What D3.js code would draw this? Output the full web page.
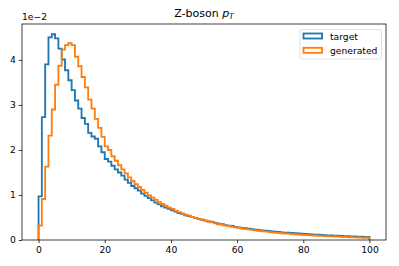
<!DOCTYPE html>
<html>
<head>
<meta charset="utf-8">
<script src="https://cdn.jsdelivr.net/npm/d3@7"></script>
<style>
  body { margin: 0; background: #fff; }
  text { font-family: "DejaVu Sans", sans-serif; fill: #000; }
</style>
</head>
<body>
<div id="plot"></div>
<script>
"use strict";

// bin edges 0..100, width 1 (100 bins)
const binStart = 0;
const binWidth = 1;

// densities in units of 1e-2
const target = [
  0.97, 2.73, 3.90, 4.50, 4.57, 4.48, 4.25, 4.01, 3.77, 3.55,
  3.33, 3.10, 2.92, 2.71, 2.58, 2.38, 2.30, 2.25, 2.08, 1.95,
  1.80, 1.74, 1.65, 1.57, 1.50, 1.43, 1.34, 1.27, 1.20, 1.15,
  1.10, 1.03, 0.98, 0.93, 0.88, 0.83, 0.79, 0.75, 0.72, 0.69,
  0.66, 0.63, 0.60, 0.58, 0.55, 0.53, 0.51, 0.49, 0.47, 0.45,
  0.43, 0.41, 0.40, 0.38, 0.36, 0.35, 0.33, 0.32, 0.31, 0.29,
  0.28, 0.27, 0.26, 0.25, 0.24, 0.23, 0.225, 0.215, 0.205, 0.20,
  0.19, 0.185, 0.18, 0.17, 0.165, 0.16, 0.155, 0.15, 0.145, 0.14,
  0.135, 0.13, 0.125, 0.12, 0.118, 0.112, 0.108, 0.104, 0.10, 0.097,
  0.094, 0.09, 0.087, 0.084, 0.08, 0.078, 0.075, 0.072, 0.07, 0.067
];
const generated = [
  0.32, 0.91, 1.63, 2.32, 2.90, 3.45, 3.87, 4.23, 4.33, 4.37,
  4.33, 4.07, 3.86, 3.62, 3.39, 3.12, 2.92, 2.69, 2.49, 2.29,
  2.08, 2.00, 1.86, 1.76, 1.66, 1.57, 1.48, 1.39, 1.31, 1.24,
  1.18, 1.11, 1.05, 0.99, 0.94, 0.89, 0.84, 0.80, 0.76, 0.72,
  0.69, 0.65, 0.62, 0.59, 0.56, 0.54, 0.51, 0.49, 0.47, 0.45,
  0.43, 0.41, 0.39, 0.37, 0.35, 0.34, 0.32, 0.31, 0.29, 0.28,
  0.27, 0.255, 0.245, 0.235, 0.225, 0.215, 0.205, 0.195, 0.19, 0.18,
  0.17, 0.165, 0.158, 0.15, 0.145, 0.14, 0.133, 0.128, 0.122, 0.117,
  0.112, 0.107, 0.103, 0.099, 0.095, 0.091, 0.087, 0.083, 0.08, 0.077,
  0.074, 0.07, 0.067, 0.064, 0.062, 0.059, 0.056, 0.054, 0.051, 0.049
];

const seriesNames = ["target", "generated"];
const seriesColors = ["#1f77b4", "#ff7f0e"];
const xTicks = [0, 20, 40, 60, 80, 100];
const yTicks = [0, 1, 2, 3, 4];

const msm = {
  width: 399,
  height: 266,
  left: 22,
  right: 386,
  top: 24,
  bottom: 240
};

const svg = d3.select("#plot")
  .append("svg")
  .attr("width", msm.width)
  .attr("height", msm.height);

const xMax = binStart + binWidth * target.length;
const yMax = d3.max(target.concat(generated)) * 1.05;

const xScale = d3.scaleLinear()
  .domain([binStart - 0.05 * (xMax - binStart), xMax + 0.05 * (xMax - binStart)])
  .range([msm.left, msm.right]);
const yScale = d3.scaleLinear()
  .domain([0, yMax])
  .range([msm.bottom, msm.top]);

// step outline like matplotlib histtype="step"
function stepPoints(vals) {
  let pts = [[binStart, 0]];
  vals.forEach((v, i) => {
    pts.push([binStart + i * binWidth, v]);
    pts.push([binStart + (i + 1) * binWidth, v]);
  });
  pts.push([xMax, 0]);
  return pts;
}

const line = d3.line()
  .x(d => xScale(d[0]))
  .y(d => yScale(d[1]));

[target, generated].forEach((vals, i) => {
  svg.append("path")
    .attr("d", line(stepPoints(vals)))
    .attr("fill", "none")
    .attr("stroke", seriesColors[i])
    .attr("stroke-width", 1.85)
    .attr("stroke-linejoin", "miter");
});

// axes
const xAxis = d3.axisBottom(xScale).tickValues(xTicks).tickSize(3.2).tickPadding(3);
const gx = svg.append("g")
  .attr("transform", "translate(0," + msm.bottom + ")")
  .call(xAxis);
const yAxis = d3.axisLeft(yScale).tickValues(yTicks).tickFormat(d3.format("d")).tickSize(3.2).tickPadding(3);
const gy = svg.append("g")
  .attr("transform", "translate(" + msm.left + ",0)")
  .call(yAxis);
[gx, gy].forEach(g => {
  g.select(".domain").remove();
  g.selectAll("line").attr("stroke", "#000").attr("stroke-width", 0.75);
  g.selectAll("text").style("font-size", "9.2px").attr("fill", "#000");
});

// frame
svg.append("rect")
  .attr("x", msm.left)
  .attr("y", msm.top)
  .attr("width", msm.right - msm.left)
  .attr("height", msm.bottom - msm.top)
  .attr("fill", "none")
  .attr("stroke", "#000")
  .attr("stroke-width", 0.75);

// offset text
svg.append("text")
  .attr("x", msm.left)
  .attr("y", 20)
  .style("font-size", "9.2px")
  .text("1e\u22122");

// title
const title = svg.append("text")
  .attr("x", (msm.left + msm.right) / 2)
  .attr("y", 17)
  .attr("text-anchor", "middle")
  .style("font-size", "11px");
title.append("tspan").text("Z-boson ");
title.append("tspan").style("font-style", "italic").text("p");
title.append("tspan").style("font-style", "italic").style("font-size", "7.7px").attr("dy", 2).text("T");

// legend
const legend = svg.append("g");
legend.append("rect")
  .attr("x", 300)
  .attr("y", 29.5)
  .attr("width", 81.5)
  .attr("height", 29.5)
  .attr("rx", 2)
  .attr("fill", "#fff")
  .attr("fill-opacity", 0.8)
  .attr("stroke", "#d6d6d6")
  .attr("stroke-width", 0.75);
seriesNames.forEach((name, i) => {
  const y0 = 33.5 + i * 14.3;
  legend.append("rect")
    .attr("x", 303.5)
    .attr("y", y0)
    .attr("width", 18.5)
    .attr("height", 5)
    .attr("fill", "none")
    .attr("stroke", seriesColors[i])
    .attr("stroke-width", 1.85);
  legend.append("text")
    .attr("x", 330)
    .attr("y", y0 + 6)
    .style("font-size", "9.2px")
    .text(name);
});
</script>
</body>
</html>
